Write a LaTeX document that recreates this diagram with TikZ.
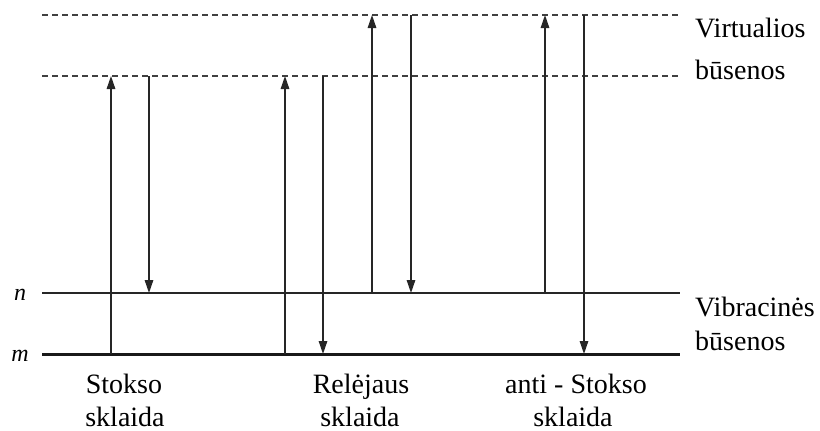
\documentclass[tikz,border=0pt]{standalone}
\usepackage{fontspec}
\setmainfont{Liberation Serif}
\usetikzlibrary{arrows.meta}
\begin{document}
\begin{tikzpicture}[x=1pt,y=-1pt,
  lvl/.style={line width=1.4pt,draw=black!85},
  ground/.style={line width=3pt,draw=black!90},
  virt/.style={line width=1.2pt,draw=black!75,dash pattern=on 6pt off 4pt},
  tr/.style={line width=1.4pt,draw=black!85,-{Triangle[length=13pt,width=8.5pt]}},
  lab/.style={font=\fontsize{28}{32}\selectfont,inner sep=0pt,anchor=base west},
  captxt/.style={font=\fontsize{28}{32}\selectfont,inner sep=0pt,anchor=base,align=center},
  sym/.style={font=\fontsize{24}{28}\selectfont\itshape,inner sep=0pt}]
\useasboundingbox (0,0) rectangle (820,431);
% level end points
\coordinate (v1L) at (42,15);  \coordinate (v1R) at (680,15);
\coordinate (v2L) at (42,76);  \coordinate (v2R) at (680,76);
\coordinate (nL) at (42,293);  \coordinate (nR) at (680,293);
\coordinate (mL) at (42,354);  \coordinate (mR) at (680,354);
\draw[virt] (v1L) -- (v1R);
\draw[virt] (v2L) -- (v2R);
\draw[lvl] (nL) -- (nR);
\draw[ground] (mL) -- (mR);
% transition points
\coordinate (s1a) at (111,354); \coordinate (s1b) at (111,76);
\coordinate (s2a) at (149,76);  \coordinate (s2b) at (149,293);
\coordinate (r1a) at (285,354); \coordinate (r1b) at (285,76);
\coordinate (r2a) at (323,76);  \coordinate (r2b) at (323,354);
\coordinate (r3a) at (372,293); \coordinate (r3b) at (372,15);
\coordinate (r4a) at (411,15);  \coordinate (r4b) at (411,293);
\coordinate (a1a) at (545,293); \coordinate (a1b) at (545,15);
\coordinate (a2a) at (584,15);  \coordinate (a2b) at (584,354);
\draw[tr] (s1a) -- (s1b);
\draw[tr] (s2a) -- (s2b);
\draw[tr] (r1a) -- (r1b);
\draw[tr] (r2a) -- (r2b);
\draw[tr] (r3a) -- (r3b);
\draw[tr] (r4a) -- (r4b);
\draw[tr] (a1a) -- (a1b);
\draw[tr] (a2a) -- (a2b);
% labels
\node[sym] (ln) at (20,295) {n};
\node[sym] (lm) at (20,356) {m};
\node[lab] (vt1) at (695,37) {Virtualios};
\node[lab] (vt2) at (695,79) {būsenos};
\node[lab] (vb1) at (695,316) {Vibracinės};
\node[lab] (vb2) at (695,350) {būsenos};
\node[captxt] (c1) at (124,393) {Stokso};
\node[captxt] (c1b) at (125,426) {sklaida};
\node[captxt] (c2) at (361,393) {Relėjaus};
\node[captxt] (c2b) at (360,426) {sklaida};
\node[captxt] (c3) at (576,393) {anti - Stokso};
\node[captxt] (c3b) at (573,426) {sklaida};
\end{tikzpicture}
\end{document}
